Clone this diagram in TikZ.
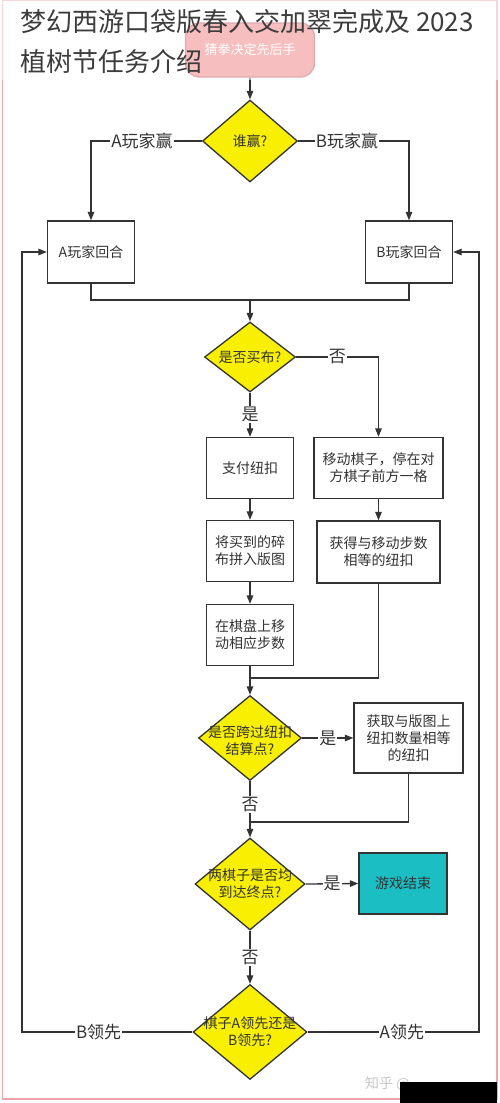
\documentclass[tikz,border=0pt]{standalone}
\usepackage{fontspec}
\setmainfont{Noto Sans CJK SC}
\usetikzlibrary{arrows.meta,positioning,calc,shapes.geometric}
\definecolor{fline}{HTML}{333333}
\definecolor{ftext}{HTML}{333333}
\definecolor{ftitle}{HTML}{3C3C3C}
\definecolor{fyellow}{HTML}{F8F000}
\definecolor{fteal}{HTML}{1BBEC3}
\definecolor{fpink}{HTML}{EE6F73}
\definecolor{fpinkline}{HTML}{B8454A}
\definecolor{fframe}{HTML}{F0A3AA}
\tikzset{
  box/.style={draw=fline,fill=white,line width=1.3pt,align=center,font=\fontsize{14}{17}\selectfont,text=ftext,inner sep=0pt},
  dia/.style={diamond,draw=fline,fill=fyellow,line width=1.3pt,inner sep=0pt},
  dtxt/.style={align=center,font=\fontsize{14}{17}\selectfont,text=ftext,inner sep=0pt},
  arr/.style={-{Triangle[length=8.5pt,width=6.5pt]},line width=1.3pt,draw=fline},
  ln/.style={line width=1.3pt,draw=fline},
  lbl/.style={font=\fontsize{17}{17}\selectfont,text=ftext,fill=white,inner sep=1pt},
}
\begin{document}
\begin{tikzpicture}[x=1pt,y=-1pt]
\useasboundingbox (0,0) rectangle (500,1103);
% page frame
\draw[fframe,line width=1.5pt] (2.5,0) rectangle (497,1099);

\node[box,fill=fpink,draw=fpinkline,rounded corners=14pt,minimum width=129pt,minimum height=54pt,text=white,font=\fontsize{13}{15}\selectfont] (start) at (250,50) {猜拳决定先后手};
\node[dia,minimum width=95pt,minimum height=82pt] (win) at (250,141) {};
\node[dtxt] (win-t) at (win) {谁赢?};
\node[box,minimum width=87pt,minimum height=62pt] (aturn) at (91,252) {A玩家回合};
\node[box,minimum width=87pt,minimum height=62pt] (bturn) at (409,252) {B玩家回合};

\node[dia,minimum width=91pt,minimum height=70pt] (buy) at (250,357) {};
\node[dtxt] (buy-t) at (buy) {是否买布?};
\node[box,minimum width=87pt,minimum height=61pt] (pay) at (250,468) {支付纽扣};
\node[box,minimum width=129pt,minimum height=61pt] (move) at (378.5,468) {移动棋子，停在对\\方棋子前方一格};
\node[box,minimum width=87pt,minimum height=61pt] (piece) at (250,551) {将买到的碎\\布拼入版图};
\node[box,minimum width=123pt,minimum height=62pt] (gain) at (378.5,552) {获得与移动步数\\相等的纽扣};
\node[box,minimum width=87pt,minimum height=61pt] (step) at (250,635) {在棋盘上移\\动相应步数};

\node[dia,minimum width=103pt,minimum height=85pt] (cross) at (250,738) {};
\node[dtxt] (cross-t) at ($(cross)+(0,3)$) {是否跨过纽扣\\结算点?};
\node[box,minimum width=109pt,minimum height=70pt] (get) at (408.5,738) {获取与版图上\\纽扣数量相等\\的纽扣};

\node[dia,minimum width=110pt,minimum height=92pt] (both) at (250,884) {};
\node[dtxt] (both-t) at (both) {两棋子是否均\\到达终点?};
\node[box,fill=fteal,minimum width=88pt,minimum height=61pt] (over) at (403,883.5) {游戏结束};

\node[dia,minimum width=114pt,minimum height=95pt] (lead) at (250,1032) {};
\node[dtxt] (lead-t) at (lead) {棋子A领先还是\\B领先?};

% connectors
\draw[arr] (start) -- (win);
\draw[arr] (win.west) -| node[lbl,pos=0.27]{A玩家赢} (aturn.north);
\draw[arr] (win.east) -| node[lbl,pos=0.22]{B玩家赢} (bturn.north);
\coordinate (j1) at (250,300);
\draw[ln] (aturn.south) |- (j1) -| (bturn.south);
\draw[arr] (j1) -- (buy.north);
\draw[arr] (buy.east) -| node[lbl,pos=0.25]{否} (move.north);
\draw[arr] (buy.south) -- node[lbl]{是} (pay.north);
\draw[arr] (pay) -- (piece);
\draw[arr] (piece) -- (step);
\draw[arr] (move) -- (gain);
\coordinate (j2) at (250,678);
\draw[ln] (gain.south) |- (j2);
\draw[arr] (step.south) -- (cross.north);
\draw[arr] (cross.east) -- node[lbl]{是} (get.west);
\coordinate (j3) at (250,822);
\draw[ln] (get.south) |- (j3);
\draw[arr] (cross.south) -- node[lbl,pos=0.42]{否} (both.north);
\draw[arr] (both.east) -- node[lbl]{是} (over.west);
\draw[arr] (both.south) -- node[lbl]{否} (lead.north);
\coordinate (bl) at (22,1032);
\coordinate (al) at (479,1032);
\draw[arr] (lead.west) -- node[lbl,pos=0.55]{B领先} (bl) |- (aturn.west);
\draw[arr] (lead.east) -- node[lbl,pos=0.55]{A领先} (al) |- (bturn.east);

% title band
\fill[white,opacity=0.55] (0,0) rectangle (500,80);
\node[anchor=west,font=\fontsize{26}{26}\selectfont,text=ftitle,inner sep=0pt] (title1) at (20,22) {梦幻西游口袋版春入交加翠完成及 2023};
\node[anchor=west,font=\fontsize{26}{26}\selectfont,text=ftitle,inner sep=0pt] (title2) at (20,62) {植树节任务介绍};

% watermark
\node[anchor=west,font=\fontsize{14}{14}\selectfont,text=black!22,inner sep=0pt] (mark) at (365,1084) {知乎 @};
\fill[black] (400,1082) rectangle (497,1103);
\end{tikzpicture}
\end{document}
